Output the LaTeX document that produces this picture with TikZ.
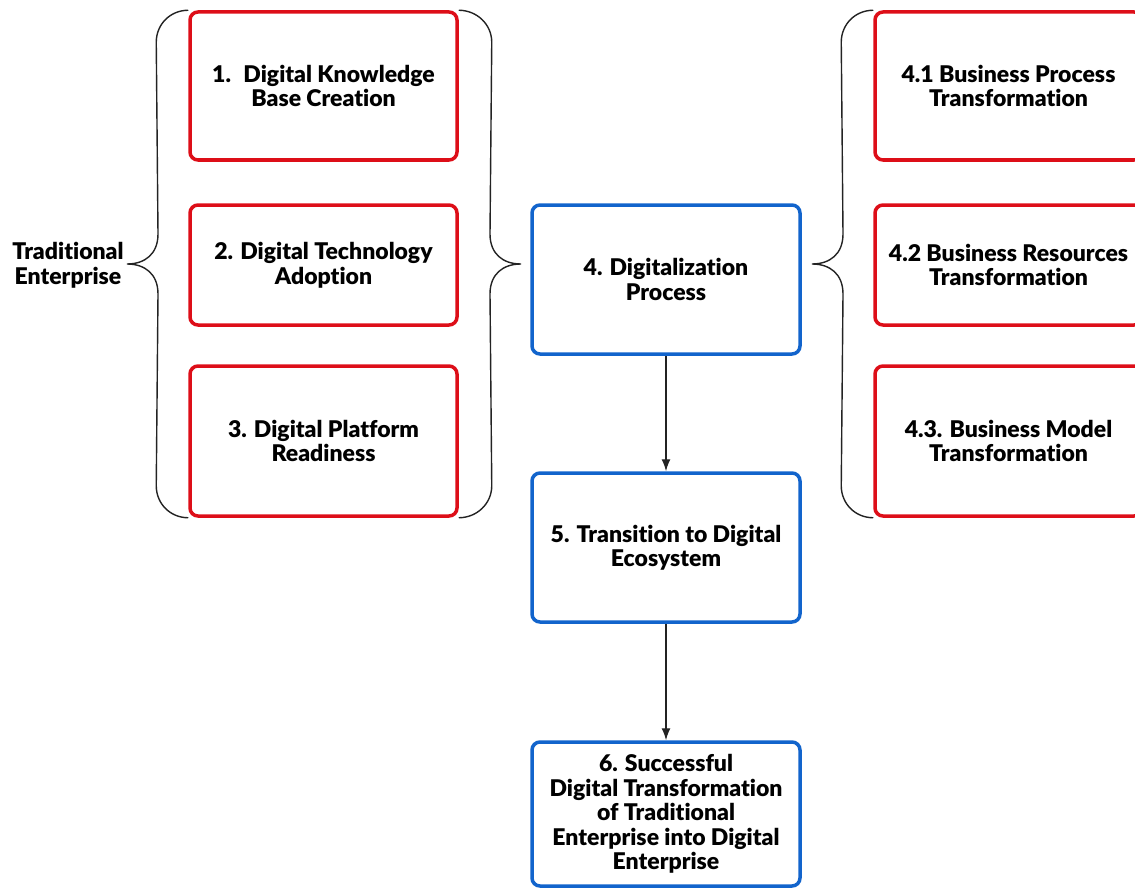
\documentclass[tikz,border=0pt]{standalone}
\usepackage{fontspec}
\setmainfont{Lato}[BoldFont={Lato Black},Ligatures=NoCommon]
\usetikzlibrary{arrows.meta,calc}
\definecolor{boxred}{RGB}{221,14,24}
\definecolor{boxblue}{RGB}{18,100,204}
\definecolor{linegray}{RGB}{35,35,35}

\begin{document}
\begin{tikzpicture}[x=1pt,y=-1pt,
        box/.style={rounded corners=8pt,line width=3.5pt,inner sep=0pt,align=center,
            font=\fontsize{23}{24.5}\selectfont\bfseries},
        redbox/.style={box,draw=boxred,minimum width=267pt},
        bluebox/.style={box,draw=boxblue,minimum width=268pt,minimum height=149pt},
        brace/.style={draw=linegray,line width=1.4pt},
        arr/.style={draw=linegray,line width=1.4pt,-{Latex[length=12pt,width=9pt]}}]
    \useasboundingbox (0,0) rectangle (1135,888);
    \clip (0,0) rectangle (1135,888);

    % left column
    \node[redbox,minimum height=148pt] (b1) at (323.5,86) {1.~ Digital Knowledge\\Base Creation};
    \node[redbox,minimum height=120pt] (b2) at (323.5,265) {2. Digital Technology\\Adoption};
    \node[redbox,minimum height=150pt] (b3) at (323.5,441) {3. Digital Platform\\Readiness};
    \node[align=center,font=\fontsize{23}{24.5}\selectfont\bfseries] (te) at (68,265) {Traditional\\Enterprise};

    % middle column
    \node[bluebox] (c4) at (666,279.5) {4. Digitalization\\Process};
    \node[bluebox] (c5) at (666,547.5) {5. Transition to Digital\\Ecosystem};
    \node[bluebox,minimum height=144pt] (c6) at (666,814) {6. Successful\\Digital Transformation\\of Traditional\\Enterprise into Digital\\Enterprise};

    % right column
    \node[redbox,minimum height=148pt] (r1) at (1008.5,86) {4.1 Business Process\\Transformation};
    \node[redbox,minimum height=120pt] (r2) at (1008.5,265) {4.2 Business Resources\\Transformation};
    \node[redbox,minimum height=150pt] (r3) at (1008.5,441) {4.3. Business Model\\Transformation};

    % brace tips
    \coordinate (t1) at (127,264);
    \coordinate (t2) at (521,264);
    \coordinate (t3) at (812,264);

    % braces
    \draw[brace] (b1.north west) .. controls +(-18,0) and +(0,-18) .. ++(-32,32)
        -- ($(t1)+(31,-30)$) .. controls +(0,20) and +(18,0) .. (t1)
        .. controls +(18,0) and +(0,-20) .. ++(31,30)
        -- ($(b3.south west)+(-32,-32)$) .. controls +(0,18) and +(-18,0) .. (b3.south west);
    \draw[brace] (b1.north east) .. controls +(18,0) and +(0,-18) .. ++(33,32)
        -- ($(t2)+(-31,-30)$) .. controls +(0,20) and +(-18,0) .. (t2)
        .. controls +(-18,0) and +(0,-20) .. ++(-31,30)
        -- ($(b3.south east)+(33,-32)$) .. controls +(0,18) and +(18,0) .. (b3.south east);
    \draw[brace] (r1.north west) .. controls +(-18,0) and +(0,-18) .. ++(-32,32)
        -- ($(t3)+(31,-30)$) .. controls +(0,20) and +(18,0) .. (t3)
        .. controls +(18,0) and +(0,-20) .. ++(31,30)
        -- ($(r3.south west)+(-32,-32)$) .. controls +(0,18) and +(-18,0) .. (r3.south west);

    % arrows
    \draw[arr] (c4) -- (c5);
    \draw[arr] (c5) -- (c6);
\end{tikzpicture}
\end{document}
